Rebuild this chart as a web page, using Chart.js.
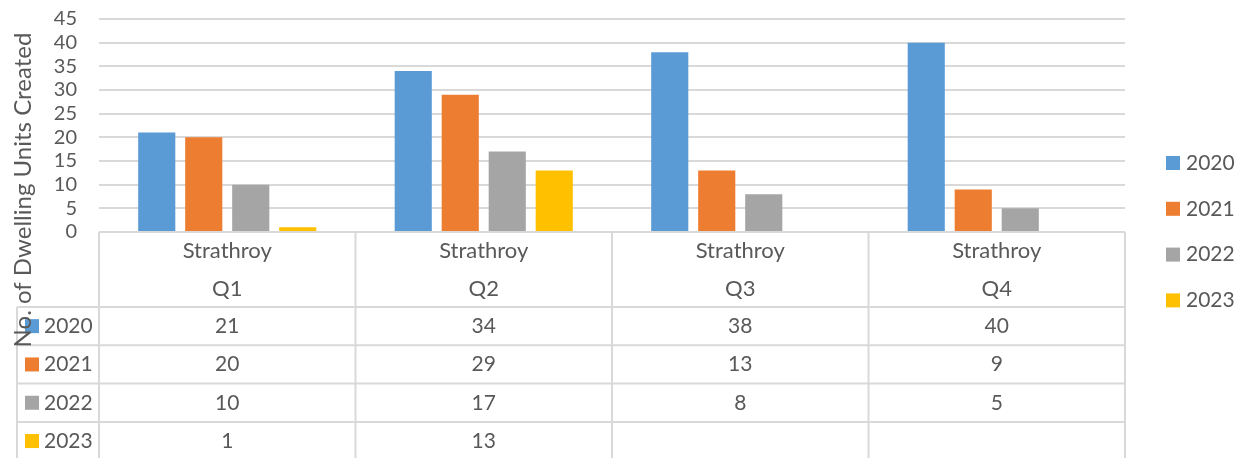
<!DOCTYPE html>
<html>
<head>
<meta charset="utf-8">
<script src="https://cdn.jsdelivr.net/npm/chart.js@4.4.1/dist/chart.umd.min.js"></script>
<style>
  html, body { margin: 0; padding: 0; background: #fff; }
  canvas { display: block; }
</style>
</head>
<body>
<canvas id="chart" width="1243" height="458"></canvas>
<script>
// chart values
const quarters = ['Q1', 'Q2', 'Q3', 'Q4'];
const place = 'Strathroy';
const years = ['2020', '2021', '2022', '2023'];
const units2020 = [21, 34, 38, 40];
const units2021 = [20, 29, 13, 9];
const units2022 = [10, 17, 8, 5];
const units2023 = [1, 13, null, null];
const yearColors = ['#5B9BD5', '#ED7D31', '#A5A5A5', '#FFC000'];
const yTitle = 'No. of Dwelling Units Created';

const FONT = 'Lato, Carlito, Calibri, sans-serif';
const TEXT = '#595959';
const LINE = '#d9d9d9';

const seriesValues = [units2020, units2021, units2022, units2023];

// draws the y title, the data table under the plot and the legend on the right
const tablePlugin = {
    id: 'dataTable',
    afterDraw(chart) {
        const ctx = chart.ctx;
        const area = chart.chartArea;
        const x = chart.scales.x;
        const colW = (area.right - area.left) / quarters.length;
        const headTop = area.bottom;
        const headBottom = 307;
        const rowH = 38.3;
        const keyLeft = 17;

        ctx.save();
        ctx.strokeStyle = LINE;
        ctx.lineWidth = 2;

        // horizontal lines
        ctx.beginPath();
        ctx.moveTo(area.left, headTop);
        ctx.lineTo(area.right, headTop);
        for (let r = 0; r < years.length; r++) {
            const y = headBottom + r * rowH;
            ctx.moveTo(keyLeft, y);
            ctx.lineTo(area.right, y);
        }
        // vertical lines
        for (let c = 0; c <= quarters.length; c++) {
            const lx = area.left + c * colW;
            ctx.moveTo(lx, headTop);
            ctx.lineTo(lx, chart.height);
        }
        ctx.moveTo(keyLeft, headBottom);
        ctx.lineTo(keyLeft, chart.height);
        ctx.stroke();

        ctx.font = '22px ' + FONT;
        ctx.fillStyle = TEXT;
        ctx.textAlign = 'center';
        ctx.textBaseline = 'middle';

        // header cells
        quarters.forEach((q, i) => {
            const cx = x.getPixelForValue(i);
            ctx.fillText(place, cx, 251);
            ctx.fillText(q, cx, 289);
        });

        // value rows
        ctx.font = '21px ' + FONT;
        years.forEach((yr, r) => {
            const cy = headBottom + r * rowH + rowH / 2;
            seriesValues[r].forEach((v, i) => {
                if (v !== null) ctx.fillText(String(v), x.getPixelForValue(i), cy);
            });
            ctx.fillStyle = yearColors[r];
            ctx.fillRect(25, cy - 7, 14, 14);
            ctx.fillStyle = TEXT;
            ctx.textAlign = 'left';
            ctx.fillText(yr, 44, cy);
            ctx.textAlign = 'center';
        });

        // legend on the right
        years.forEach((yr, r) => {
            const cy = 163 + r * 45.8;
            ctx.fillStyle = yearColors[r];
            ctx.fillRect(1166, cy - 7, 14, 14);
            ctx.fillStyle = TEXT;
            ctx.textAlign = 'left';
            ctx.fillText(yr, 1186, cy);
        });

        // y axis title
        ctx.font = '24px ' + FONT;
        ctx.translate(23, 190);
        ctx.rotate(-Math.PI / 2);
        ctx.textAlign = 'center';
        ctx.fillStyle = TEXT;
        ctx.fillText(yTitle, 0, 0);
        ctx.restore();
    }
};

new Chart(document.getElementById('chart').getContext('2d'), {
    type: 'bar',
    data: {
        labels: quarters,
        datasets: years.map((yr, i) => ({
            label: yr,
            data: seriesValues[i],
            backgroundColor: yearColors[i],
            borderWidth: 0,
            barPercentage: 0.79,
            categoryPercentage: 0.733
        }))
    },
    options: {
        responsive: false,
        animation: false,
        layout: {
            padding: { top: 19, right: 118, bottom: 226, left: 0 }
        },
        scales: {
            x: {
                display: false
            },
            y: {
                min: 0,
                max: 45,
                border: { display: false },
                grid: { color: LINE, lineWidth: 2, drawTicks: false },
                ticks: {
                    stepSize: 5,
                    autoSkip: false,
                    padding: 22,
                    color: TEXT,
                    font: { family: FONT, size: 20 }
                },
                afterFit(scale) {
                    scale.width = 99;
                    scale.paddingTop = 0;
                    scale.paddingBottom = 0;
                }
            }
        },
        plugins: {
            legend: { display: false },
            tooltip: { enabled: false }
        }
    },
    plugins: [tablePlugin]
});
</script>
</body>
</html>
